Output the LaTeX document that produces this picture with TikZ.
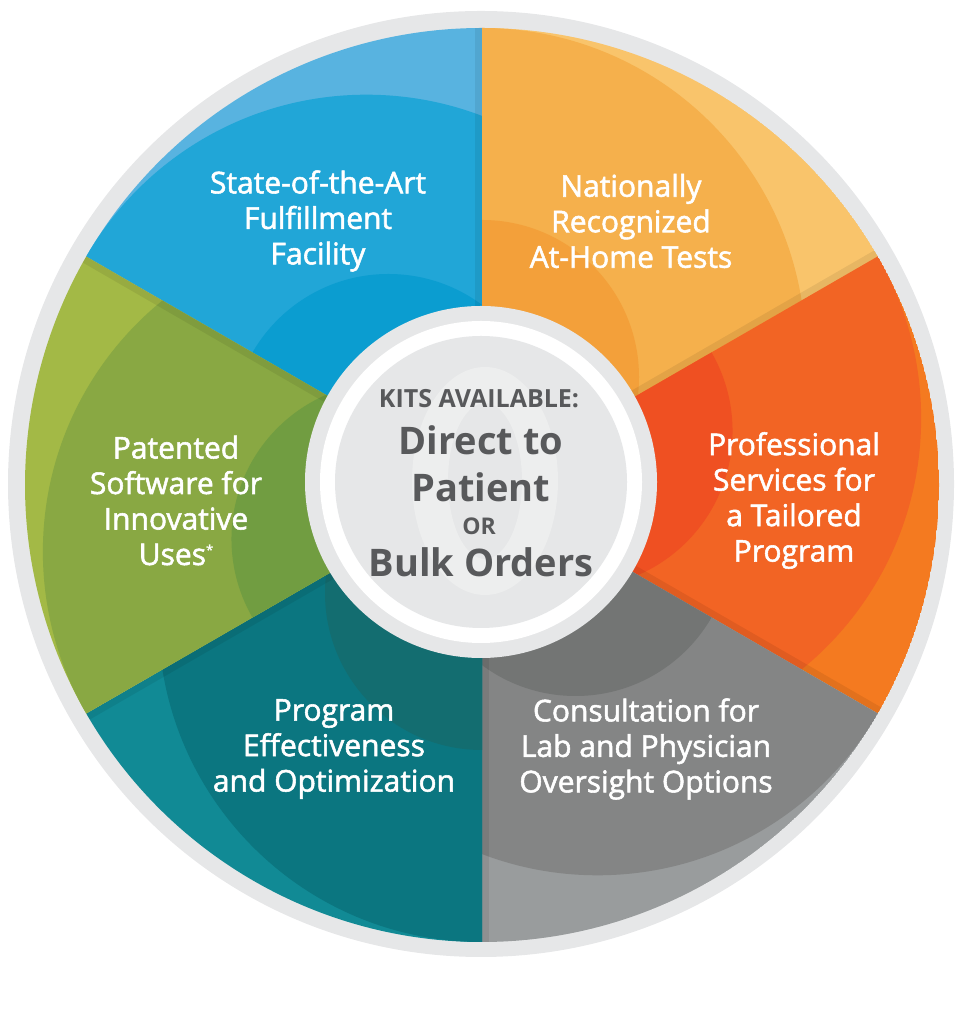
\documentclass[tikz,border=0pt]{standalone}
\usepackage{fontspec}
\setmainfont{Open Sans}
\newfontfamily\segfont{Open Sans}[FakeBold=1.8]
\usetikzlibrary{calc}
\definecolor{ringgray}{HTML}{E6E7E8}
\definecolor{wmark}{HTML}{EDEEEE}
\definecolor{centertext}{HTML}{58595B}
\definecolor{blueL}{HTML}{58B3E0}\definecolor{blueM}{HTML}{21A6D7}\definecolor{blueD}{HTML}{0B9DD0}
\definecolor{yelL}{HTML}{F9C46B}\definecolor{yelM}{HTML}{F5B04C}\definecolor{yelD}{HTML}{F3A03A}
\definecolor{oraL}{HTML}{F47A20}\definecolor{oraM}{HTML}{F26424}\definecolor{oraD}{HTML}{EF5022}
\definecolor{grayL}{HTML}{999C9D}\definecolor{grayM}{HTML}{848585}\definecolor{grayD}{HTML}{737574}
\definecolor{tealL}{HTML}{118A95}\definecolor{tealM}{HTML}{0B7680}\definecolor{tealD}{HTML}{136D70}
\definecolor{grnL}{HTML}{A3B946}\definecolor{grnM}{HTML}{89A843}\definecolor{grnD}{HTML}{719D41}
\newcommand\wheelsector[4]{%
  \begin{scope}
    \clip (O) -- ($(O)+(#1:457)$) arc[start angle=#1, end angle=#1+60, radius=457] -- cycle;
    \fill[#2] (O) circle (457);
    \fill[#3] ($(O)+({#1+60}:133.4)$) circle (323.6);
    \fill[#4] ($(O)+({#1+60}:108)$) circle (157);
    \fill[black, opacity=0.07] (O) -- ($(O)+(#1:470)$) -- ($(O)+(#1:470)+({#1+90}:7)$) -- ($(O)+({#1+90}:7)$) -- cycle;
  \end{scope}}
\tikzset{
  segtext/.style={text=white, align=center, font=\segfont\fontsize{30}{35.5}\selectfont, inner sep=0pt},
  bigc/.style={text=centertext, anchor=base, font=\bfseries\fontsize{38}{40}\selectfont, inner sep=0pt},
}
\begin{document}
\begin{tikzpicture}[x=1pt,y=1pt]
\useasboundingbox (0,0) rectangle (964,1024);
\coordinate (O) at (482,539);
\coordinate (C) at (481,542);
\fill[ringgray] (481,540) circle (473);
\wheelsector{90}{blueL}{blueM}{blueD}
\wheelsector{30}{yelL}{yelM}{yelD}
\wheelsector{-30}{oraL}{oraM}{oraD}
\wheelsector{-90}{grayL}{grayM}{grayD}
\wheelsector{-150}{tealL}{tealM}{tealD}
\wheelsector{150}{grnL}{grnM}{grnD}
% center hub
\fill[ringgray] (C) circle (176);
\fill[white] (C) circle (161);
\fill[ringgray] (C) circle (146);
\fill[wmark, even odd rule] (485,543) ellipse (73 and 114) (485,543) ellipse (37 and 78);
% segment texts
\node[segtext] (t1) at (318,803) {State-of-the-Art\\Fulfillment\\Facility};
\node[segtext] (t2) at (631,803) {Nationally\\Recognized\\At-Home Tests};
\node[segtext] (t3) at (794,523.5) {Professional\\Services for\\a Tailored\\Program};
\node[segtext] (t4) at (646,275) {Consultation for\\Lab and Physician\\Oversight Options};
\node[segtext] (t5) at (334,275) {Program\\Effectiveness\\and Optimization};
\node[segtext] (t6) at (176,523.5) {Patented\\Software for\\Innovative\\Uses\raisebox{0.35em}{\fontsize{13}{13}\selectfont*}};
% center texts
\node[text=centertext, anchor=base, font=\bfseries\fontsize{25}{26}\selectfont, inner sep=0pt] (c1) at (479,616) {KITS AVAILABLE:};
\node[bigc] (c2) at (481,569) {Direct to};
\node[bigc] (c3) at (481,522) {Patient};
\node[text=centertext, anchor=base, font=\bfseries\fontsize{23}{24}\selectfont, inner sep=0pt] (c4) at (479,489) {OR};
\node[bigc] (c5) at (481,447) {Bulk Orders};
\end{tikzpicture}
\end{document}
